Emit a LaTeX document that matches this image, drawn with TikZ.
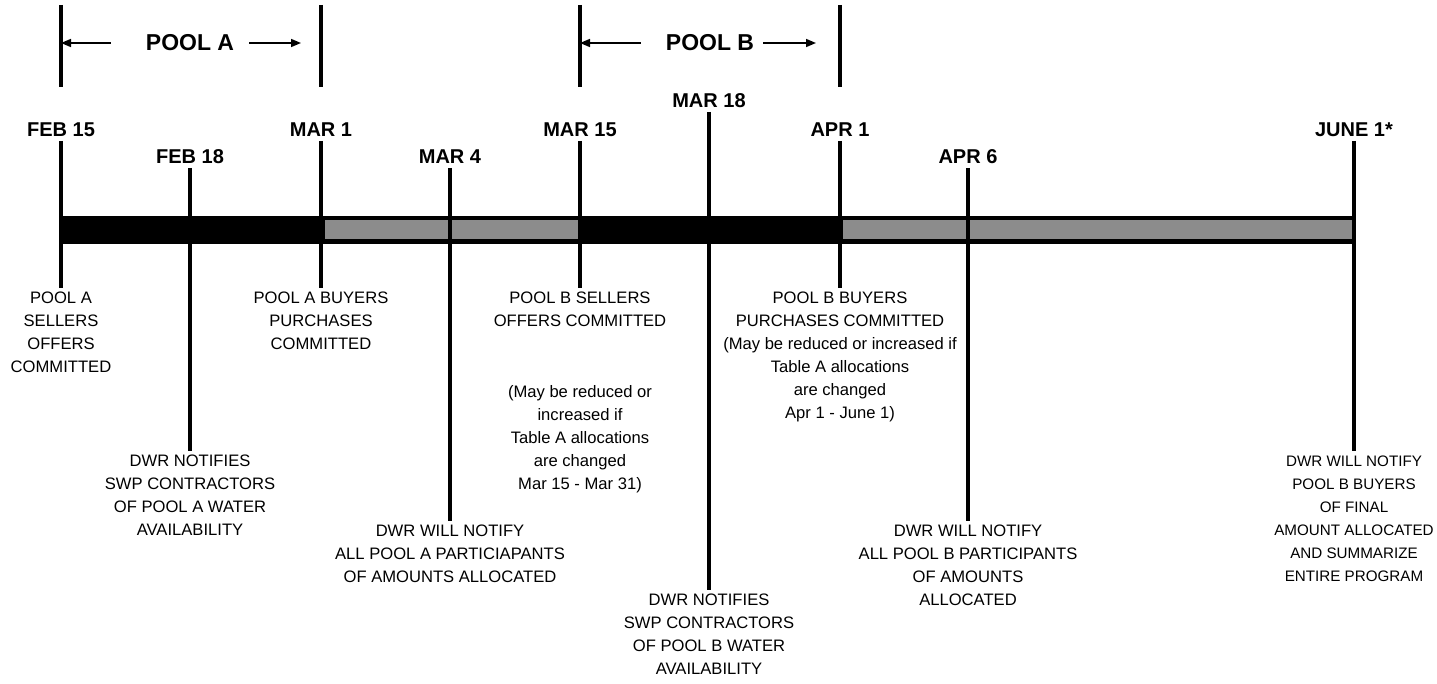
\documentclass[tikz,border=0pt]{standalone}
\usepackage{fontspec}
\setmainfont{Liberation Sans}
\usepackage{tikz}
\usetikzlibrary{arrows.meta, positioning, calc}
\definecolor{barGray}{gray}{0.55}
\tikzset{
  datelbl/.style={anchor=south,inner sep=2pt,font=\fontsize{10}{12}\selectfont\bfseries},
  evtxt/.style={anchor=north,inner sep=2pt,align=center,font=\fontsize{8.3}{11.5}\selectfont},
  poollbl/.style={inner sep=0pt,font=\fontsize{11.5}{13}\selectfont\bfseries},
  tickln/.style={line width=1.8pt},
  arr/.style={-{Triangle[length=5pt,width=4pt]},line width=0.8pt}
}
\begin{document}
\begin{tikzpicture}[x=0.5pt,y=-0.5pt]
  \useasboundingbox (0,0) rectangle (1437,684);

  % the time bar
  \fill[black] (61,216) rectangle (1354,244);
  \fill[barGray] (325,220) rectangle (578,239);
  \fill[barGray] (843,220) rectangle (1352,239);

  % dates
  \node[datelbl] (feb15) at (61,141)   {FEB 15};
  \node[datelbl] (feb18) at (190,168)  {FEB 18};
  \node[datelbl] (mar1)  at (321,141)  {MAR 1};
  \node[datelbl] (mar4)  at (450,168)  {MAR 4};
  \node[datelbl] (mar15) at (580,141)  {MAR 15};
  \node[datelbl] (mar18) at (709,112)  {MAR 18};
  \node[datelbl] (apr1)  at (840,141)  {APR 1};
  \node[datelbl] (apr6)  at (968,168)  {APR 6};
  \node[datelbl] (jun1)  at (1354,141) {JUNE 1*};

  % events
  \node[evtxt] (feb15t) at (61,288)   {POOL A\\SELLERS\\OFFERS\\COMMITTED};
  \node[evtxt] (feb18t) at (190,451)  {DWR NOTIFIES\\SWP CONTRACTORS\\OF POOL A WATER\\AVAILABILITY};
  \node[evtxt] (mar1t)  at (321,288)  {POOL A BUYERS\\PURCHASES\\COMMITTED};
  \node[evtxt] (mar4t)  at (450,521)  {DWR WILL NOTIFY\\ALL POOL A PARTICIAPANTS\\OF AMOUNTS ALLOCATED};
  \node[evtxt] (mar15t) at (580,288)  {POOL B SELLERS\\OFFERS COMMITTED};
  \node[evtxt] (mar15n) at (580,381)  {(May be reduced or\\increased if\\Table A allocations\\are changed\\Mar 15 - Mar 31)};
  \node[evtxt] (mar18t) at (709,590)  {DWR NOTIFIES\\SWP CONTRACTORS\\OF POOL B WATER\\AVAILABILITY};
  \node[evtxt] (apr1t)  at (840,288)  {POOL B BUYERS\\PURCHASES COMMITTED\\(May be reduced or increased if\\Table A allocations\\are changed\\Apr 1 - June 1)};
  \node[evtxt] (apr6t)  at (968,521)  {DWR WILL NOTIFY\\ALL POOL B PARTICIPANTS\\OF AMOUNTS\\ALLOCATED};
  \node[evtxt, font=\fontsize{7.6}{11.5}\selectfont] (jun1t) at (1354,451)
    {DWR WILL NOTIFY\\POOL B BUYERS\\OF FINAL\\AMOUNT ALLOCATED\\AND SUMMARIZE\\ENTIRE PROGRAM};

  \foreach \d in {feb15,feb18,mar1,mar4,mar15,mar18,apr1,apr6,jun1}
    \draw[tickln] (\d.south) -- (\d t.north);

  % pool brackets
  \coordinate (topY) at (0,5);
  \coordinate (botY) at (0,87);
  \foreach \d in {feb15,mar1,mar15,apr1}
    \draw[tickln] (\d |- topY) -- (\d |- botY);

  \node[poollbl] (poolA) at (190,43) {POOL A};
  \node[poollbl] (poolB) at (710,43) {POOL B};

  \draw[arr] ($(poolA.west)+(-35,0)$) -- (poolA -| feb15);
  \draw[arr] ($(poolA.east)+(15,0)$) -- ($(poolA -| mar1)+(-20,0)$);
  \draw[arr] ($(poolB.west)+(-25,0)$) -- (poolB -| mar15);
  \draw[arr] ($(poolB.east)+(9,0)$) -- ($(poolB -| apr1)+(-24,0)$);
\end{tikzpicture}
\end{document}
